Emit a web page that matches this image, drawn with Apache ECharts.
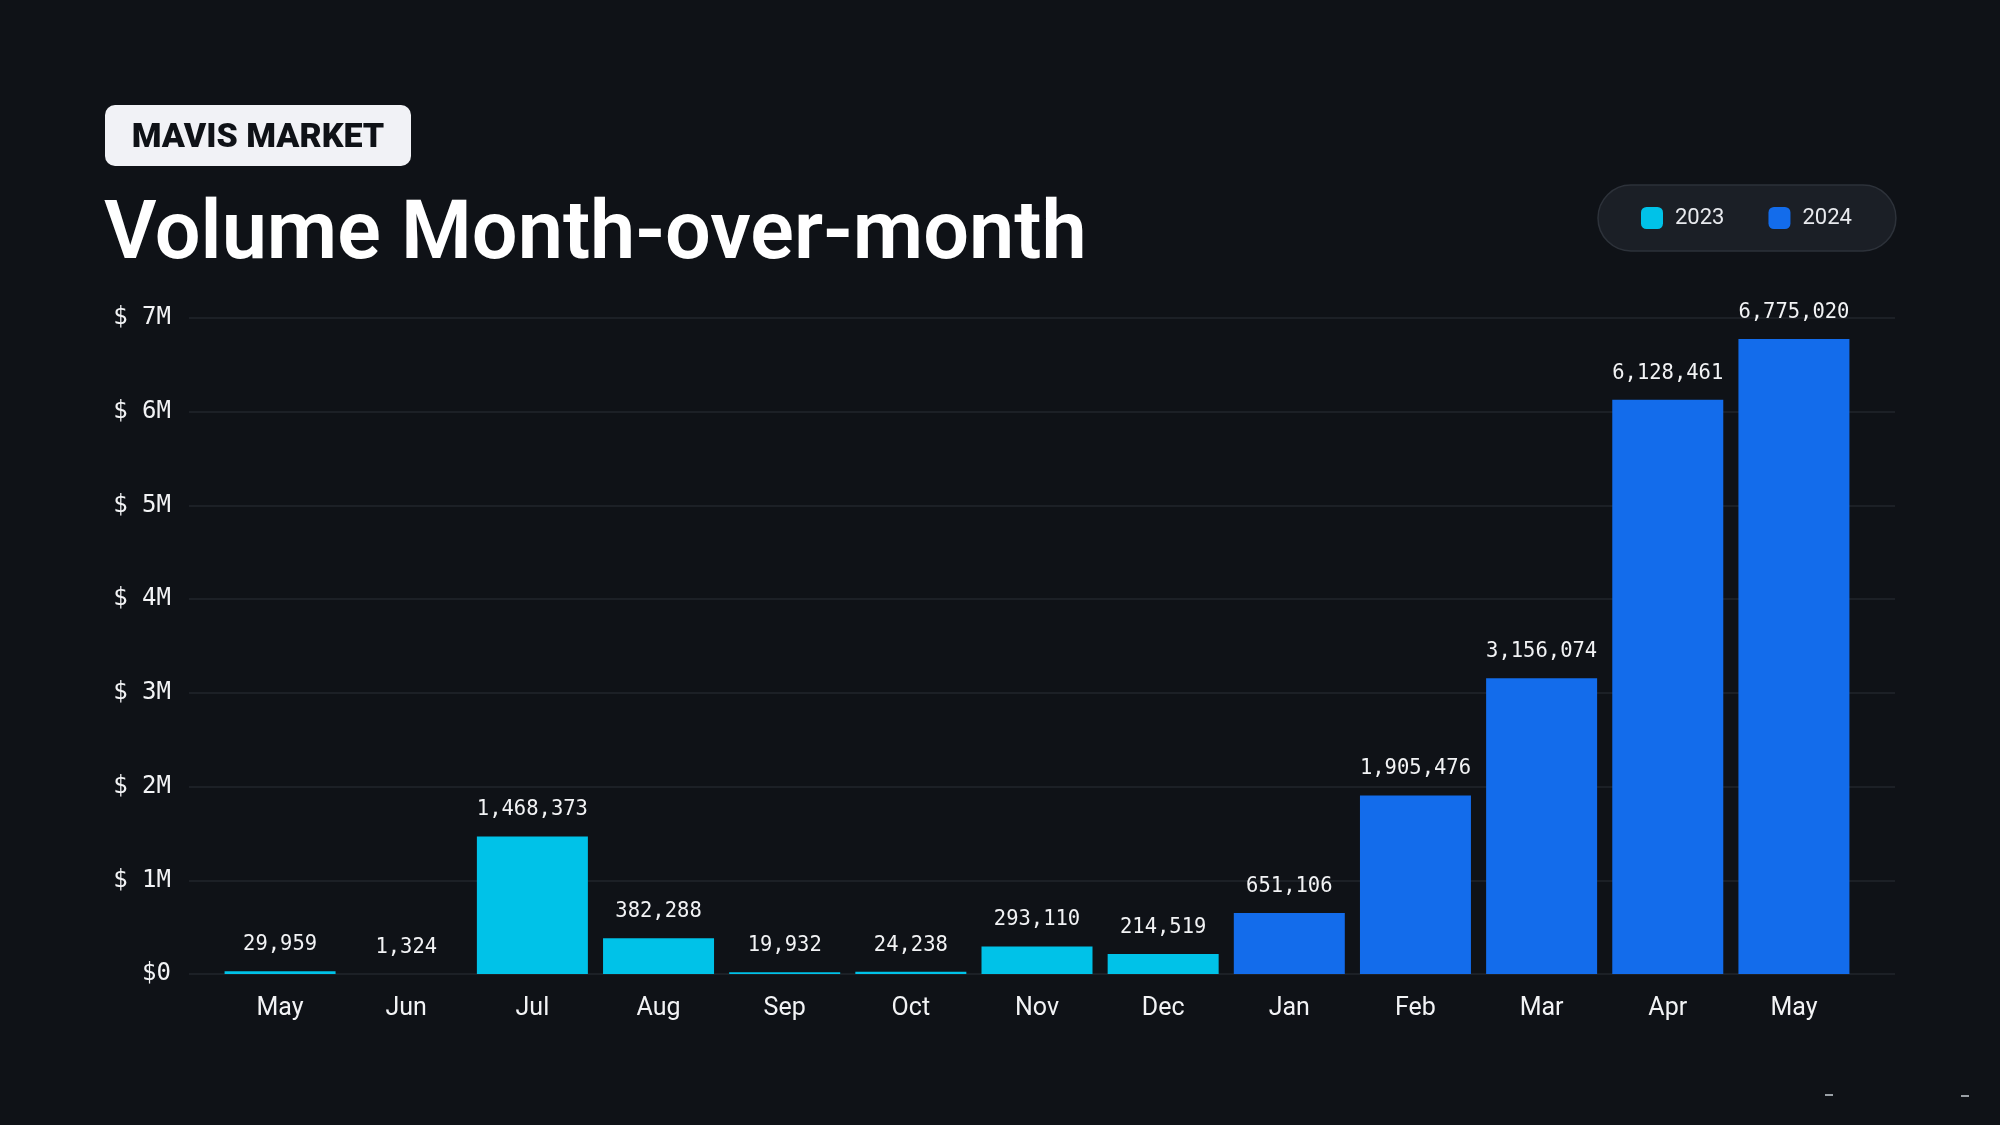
<!DOCTYPE html>
<html>
<head>
<meta charset="utf-8">
<script src="https://cdn.jsdelivr.net/npm/echarts@6/dist/echarts.min.js"></script>
<style>
html,body{margin:0;padding:0;background:#0f1217;}
#c{width:2000px;height:1125px;}
</style>
</head>
<body>
<div id="c"></div>
<script>
const categories = ['May','Jun','Jul','Aug','Sep','Oct','Nov','Dec','Jan','Feb','Mar','Apr','May'];
const values2023 = [29959, 1324, 1468373, 382288, 19932, 24238, 293110, 214519, '-', '-', '-', '-', '-'];
const values2024 = ['-', '-', '-', '-', '-', '-', '-', '-', 651106, 1905476, 3156074, 6128461, 6775020];
const yTicks = [0, 1000000, 2000000, 3000000, 4000000, 5000000, 6000000, 7000000];
const seriesNames = ['2023', '2024'];

const chart = echarts.init(document.getElementById('c'));
const sans = 'Roboto, "Noto Sans", sans-serif';
const mono = '"DejaVu Sans Mono", "Liberation Mono", monospace';
const fmtVal = v => Number(v).toLocaleString('en-US');
const labelStyle = {
  show: true, position: 'top', distance: 16,
  color: '#f2f3f5', fontFamily: mono, fontSize: 20.5,
  formatter: p => fmtVal(p.value)
};

chart.setOption({
  backgroundColor: '#0f1217',
  animation: false,
  graphic: [
    { type: 'rect', shape: { x: 105, y: 105, width: 306, height: 61, r: 10 }, style: { fill: '#f1f2f6' } },
    { type: 'text', x: 258, y: 138, style: { text: 'MAVIS MARKET', fill: '#0f1217', font: '900 34px ' + sans, align: 'center', verticalAlign: 'middle' } },
    { type: 'text', x: 104, y: 238, style: { text: 'Volume Month-over-month', fill: '#ffffff', font: '600 81px ' + sans, align: 'left', verticalAlign: 'middle' } },
    { type: 'rect', shape: { x: 1825, y: 1094, width: 8, height: 2 }, style: { fill: '#9aa0a6' } },
    { type: 'rect', shape: { x: 1961, y: 1095, width: 8, height: 2 }, style: { fill: '#9aa0a6' } }
  ],
  legend: {
    left: 1598, top: 185,
    orient: 'horizontal',
    data: seriesNames,
    icon: 'roundRect',
    itemWidth: 22, itemHeight: 22, itemGap: 44,
    padding: [22, 44, 22, 43],
    backgroundColor: '#1b1f26',
    borderColor: '#2d323a', borderWidth: 1.5, borderRadius: 33,
    textStyle: { color: '#e8eaee', fontFamily: sans, fontSize: 22, padding: [0, 0, 0, 7] }
  },
  grid: [
    { left: 189, right: 105, top: 318, bottom: 151 },
    { left: 217, right: 143, top: 318, bottom: 151 }
  ],
  xAxis: [
    { type: 'category', gridIndex: 0, data: categories, show: false },
    {
      type: 'category', gridIndex: 1, data: categories,
      axisLine: { show: false }, axisTick: { show: false },
      axisLabel: { color: '#f2f3f5', fontFamily: sans, fontSize: 25, margin: 22 }
    }
  ],
  yAxis: [
    {
      type: 'value', gridIndex: 0, min: yTicks[0], max: yTicks[yTicks.length - 1], interval: 1000000,
      axisLine: { show: false }, axisTick: { show: false },
      splitLine: { lineStyle: { color: '#22262d', width: 1.5 } },
      axisLabel: {
        color: '#f2f3f5', fontFamily: mono, fontSize: 24, margin: 18,
        formatter: v => v === 0 ? '$0' : '$ ' + (v / 1000000) + 'M'
      }
    },
    {
      type: 'value', gridIndex: 1, min: yTicks[0], max: yTicks[yTicks.length - 1], interval: 1000000,
      show: false, splitLine: { show: false }
    }
  ],
  series: [
    {
      name: seriesNames[0], type: 'bar', xAxisIndex: 1, yAxisIndex: 1,
      data: values2023, barWidth: 111, barGap: '-100%',
      itemStyle: { color: '#00c2e8' }, label: labelStyle
    },
    {
      name: seriesNames[1], type: 'bar', xAxisIndex: 1, yAxisIndex: 1,
      data: values2024, barWidth: 111, barGap: '-100%',
      itemStyle: { color: '#136ceb' }, label: labelStyle
    }
  ]
});
</script>
</body>
</html>
